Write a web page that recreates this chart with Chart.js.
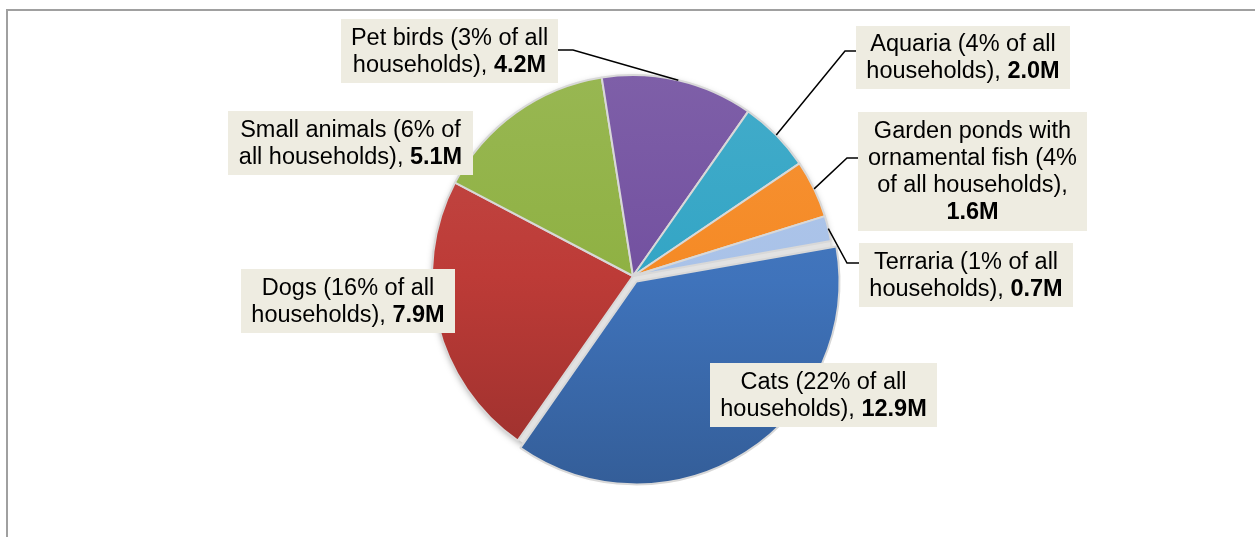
<!DOCTYPE html>
<html lang="en">
<head>
<meta charset="UTF-8">
<title>Pets in households</title>
<script src="https://cdn.jsdelivr.net/npm/chart.js"></script>
<style>
  html, body { margin: 0; padding: 0; background: #fff; overflow: hidden; }
  #frame { position: absolute; left: 6px; top: 9px; width: 1400px; height: 700px;
           border-left: 2px solid #a0a0a0; border-top: 2px solid #a0a0a0; }
  #wrap { position: absolute; left: 0; top: 0; width: 1255px; height: 537px; }
</style>
</head>
<body>
<div id="frame"></div>
<div id="wrap"><canvas id="petChart" width="1255" height="537"></canvas></div>
<script>
// data (millions of households / share of all households)
const categories = ['Cats', 'Dogs', 'Small animals', 'Pet birds', 'Aquaria',
                    'Garden ponds with ornamental fish', 'Terraria'];
const householdsM = [12.9, 7.9, 5.1, 4.2, 2.0, 1.6, 0.7];
const sharePct = [22, 16, 6, 3, 4, 4, 1];
const sliceColors = ['#3f73bb', '#bd3b37', '#8fb143', '#7351a0', '#33a5c5', '#f58a25', '#a9c2e8'];

const pieRadius = 201;
const labelFont = '"Liberation Sans", Arial, sans-serif';
const fontPx = 23.5;
const lineH = 27;

// label boxes (same order as categories); elbow = where the leader line bends
const labelBoxes = [
  { x: 710, y: 363, w: 227, h: 64 },
  { x: 241, y: 269, w: 214, h: 64 },
  { x: 228, y: 111, w: 245, h: 64 },
  { x: 341, y: 19,  w: 217, h: 64, elbow: [573, 50], side: 'right' },
  { x: 856, y: 26,  w: 214, h: 63, elbow: [845, 51], side: 'left' },
  { x: 858, y: 112, w: 229, h: 119, elbow: [847, 158], side: 'left' },
  { x: 859, y: 243, w: 214, h: 64, elbow: [847, 263], side: 'left' }
];

function shade(hex, amt) {
  const n = parseInt(hex.slice(1), 16);
  let r = (n >> 16) & 255, g = (n >> 8) & 255, b = n & 255;
  const f = c => amt >= 0 ? Math.round(c + (255 - c) * amt) : Math.round(c * (1 + amt));
  return 'rgb(' + f(r) + ',' + f(g) + ',' + f(b) + ')';
}

// soft shadow + light grey gaps under the slices
const pieShadow = {
  id: 'pieShadow',
  beforeDatasetsDraw(chart) {
    const arc = chart.getDatasetMeta(0).data[0];
    if (!arc) return;
    const ctx = chart.ctx;
    ctx.save();
    ctx.shadowColor = 'rgba(0,0,0,0.35)';
    ctx.shadowBlur = 7;
    ctx.shadowOffsetY = 2;
    ctx.fillStyle = '#e2e2e2';
    ctx.beginPath();
    ctx.arc(arc.x, arc.y, pieRadius - 1, 0, Math.PI * 2);
    ctx.fill();
    ctx.restore();
  }
};

function wrapWords(ctx, words, maxW) {
  const lines = [];
  let cur = [];
  let curW = 0;
  words.forEach(w => {
    ctx.font = (w.bold ? 'bold ' : '') + fontPx + 'px ' + labelFont;
    const ww = ctx.measureText(w.t).width;
    const sp = ctx.measureText(' ').width;
    const add = cur.length ? sp + ww : ww;
    if (cur.length && curW + add > maxW) {
      lines.push(cur);
      cur = [w];
      curW = ww;
    } else {
      cur.push(w);
      curW += add;
    }
  });
  if (cur.length) lines.push(cur);
  return lines;
}

const calloutLabels = {
  id: 'calloutLabels',
  afterDatasetsDraw(chart) {
    const ctx = chart.ctx;
    const arcs = chart.getDatasetMeta(0).data;
    ctx.save();
    categories.forEach((name, i) => {
      const b = labelBoxes[i];
      // leader line
      if (b.elbow) {
        const a = arcs[i];
        const mid = (a.startAngle + a.endAngle) / 2;
        const px = a.x + Math.cos(mid) * a.outerRadius;
        const py = a.y + Math.sin(mid) * a.outerRadius;
        const ex = b.side === 'right' ? b.x + b.w : b.x;
        ctx.strokeStyle = '#000';
        ctx.lineWidth = 1.5;
        ctx.beginPath();
        ctx.moveTo(ex, b.elbow[1]);
        ctx.lineTo(b.elbow[0], b.elbow[1]);
        ctx.lineTo(px, py);
        ctx.stroke();
      }
      // box
      ctx.fillStyle = '#eeece1';
      ctx.fillRect(b.x, b.y, b.w, b.h);
      // text
      const words = (name + ' (' + sharePct[i] + '% of all households),').split(' ')
        .map(t => ({ t: t, bold: false }));
      words.push({ t: householdsM[i].toFixed(1) + 'M', bold: true });
      const lines = wrapWords(ctx, words, b.w - 14);
      const top = b.y + (b.h - lines.length * lineH) / 2;
      ctx.fillStyle = '#000';
      ctx.textBaseline = 'middle';
      ctx.textAlign = 'left';
      lines.forEach((ln, li) => {
        const parts = ln.map((w, wi) => {
          ctx.font = (w.bold ? 'bold ' : '') + fontPx + 'px ' + labelFont;
          const txt = wi ? ' ' + w.t : w.t;
          return { txt: txt, bold: w.bold, w: ctx.measureText(txt).width };
        });
        const total = parts.reduce((s, p) => s + p.w, 0);
        let x = b.x + b.w / 2 - total / 2;
        const y = top + lineH * li + lineH / 2 + 1;
        parts.forEach(p => {
          ctx.font = (p.bold ? 'bold ' : '') + fontPx + 'px ' + labelFont;
          ctx.fillText(p.txt, x, y);
          x += p.w;
        });
      });
    });
    ctx.restore();
  }
};

const ctx = document.getElementById('petChart').getContext('2d');
const petChart = new Chart(ctx, {
  type: 'pie',
  data: {
    labels: categories,
    datasets: [{
      data: householdsM,
      backgroundColor: (c) => {
        const base = sliceColors[c.dataIndex];
        const area = c.chart.chartArea;
        if (!area) return base;
        const cy = (area.top + area.bottom) / 2;
        const g = c.chart.ctx.createLinearGradient(0, cy - pieRadius, 0, cy + pieRadius);
        g.addColorStop(0, shade(base, 0.08));
        g.addColorStop(0.5, base);
        g.addColorStop(1, shade(base, -0.18));
        return g;
      },
      borderColor: '#d8d8d8',
      borderWidth: 2,
      offset: [26, 0, 0, 0, 0, 0, 0]
    }]
  },
  options: {
    responsive: false,
    devicePixelRatio: 1,
    animation: false,
    rotation: 80,
    radius: pieRadius,
    layout: { padding: { left: 11, right: 0, top: 15, bottom: 0 } },
    plugins: {
      legend: { display: false },
      tooltip: { enabled: false }
    }
  },
  plugins: [pieShadow, calloutLabels]
});
</script>
</body>
</html>
